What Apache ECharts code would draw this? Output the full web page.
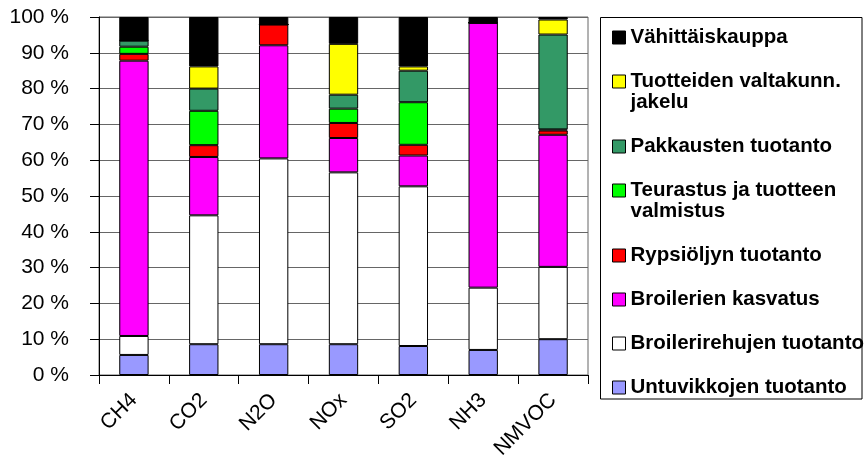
<!DOCTYPE html>
<html>
<head>
<meta charset="utf-8">
<script src="https://cdn.jsdelivr.net/npm/echarts@6/dist/echarts.min.js"></script>
<style>
  html, body { margin: 0; padding: 0; background: #fff; }
  #chart { width: 864px; height: 465px; }
</style>
</head>
<body>
<div id="chart"></div>
<script>
// Emission categories along the x axis
const categories = ['CH4', 'CO2', 'N2O', 'NOx', 'SO2', 'NH3', 'NMVOC'];

// Share (%) of each production stage, stacked from the bottom up
const untuvikkojen    = [5.6, 8.6, 8.6, 8.6, 8.1, 7.0, 10.0];
const broilerirehujen = [5.3, 36.0, 51.9, 48.0, 44.6, 17.4, 20.2];
const broilerien      = [76.9, 16.3, 31.6, 9.6, 8.6, 74.0, 36.9];
const rypsioljyn      = [1.9, 3.3, 5.8, 4.2, 3.0, 0, 1.2];
const teurastus       = [2.0, 9.6, 0, 4.0, 11.9, 0, 0.3];
const pakkausten      = [1.7, 6.2, 0, 3.9, 8.8, 0, 26.5];
const tuotteiden      = [0, 6.2, 0, 14.2, 1.2, 0, 4.2];
const vahittais       = [6.6, 13.8, 2.1, 7.5, 13.8, 1.6, 0.7];

// Y axis tick values
const yTicks = [0, 10, 20, 30, 40, 50, 60, 70, 80, 90, 100];

const stages = [
  { name: 'Untuvikkojen tuotanto',        data: untuvikkojen,    color: '#9999FF' },
  { name: 'Broilerirehujen tuotanto',     data: broilerirehujen, color: '#FFFFFF' },
  { name: 'Broilerien kasvatus',          data: broilerien,      color: '#FF00FF' },
  { name: 'Rypsiöljyn tuotanto',          data: rypsioljyn,      color: '#FF0000' },
  { name: 'Teurastus ja tuotteen\nvalmistus', data: teurastus,   color: '#00FF00' },
  { name: 'Pakkausten tuotanto',          data: pakkausten,      color: '#339966' },
  { name: 'Tuotteiden valtakunn.\njakelu', data: tuotteiden,     color: '#FFFF00' },
  { name: 'Vähittäiskauppa',              data: vahittais,       color: '#000000' }
];

const FONT = '"Liberation Sans", Arial, sans-serif';
const LINE_H = 21;
const chart = echarts.init(document.getElementById('chart'), null, { renderer: 'canvas' });

// Legend lists the top of the stack first; for two-line names the box is
// shortened by one line so the icon sits beside the first line
const legendData = stages.slice().reverse().map(s => {
  const item = { name: s.name };
  const lines = s.name.split('\n').length;
  if (lines > 1) {
    item.textStyle = { padding: [0, 0, -LINE_H * (lines - 1), 0] };
  }
  return item;
});

chart.setOption({
  backgroundColor: '#ffffff',
  animation: false,
  grid: {
    left: 99, right: 276, top: 17, bottom: 90,
    show: true, borderColor: '#666', borderWidth: 1
  },
  graphic: [{
    type: 'rect',
    shape: { x: 600.5, y: 17.5, width: 261.5, height: 381.5 },
    style: { fill: 'none', stroke: '#000', lineWidth: 1 },
    z: 0
  }],
  legend: {
    orient: 'vertical',
    left: 612, top: 27,
    padding: 0,
    itemGap: 23,
    itemWidth: 13, itemHeight: 13,
    icon: 'rect',
    itemStyle: { borderColor: '#000', borderWidth: 1 },
    textStyle: {
      fontFamily: FONT, fontSize: 20.5, fontWeight: 'bold',
      color: '#000', lineHeight: LINE_H,
      rich: { b: { fontWeight: 'bold' } }
    },
    selectedMode: false,
    data: legendData
  },
  xAxis: {
    type: 'category',
    data: categories,
    axisLine: { lineStyle: { color: '#000', width: 1 } },
    axisTick: { show: true, length: 9, interval: 0, lineStyle: { color: '#000' } },
    axisLabel: {
      rotate: 45, interval: 0, margin: 22,
      fontFamily: FONT, fontSize: 21, color: '#000'
    },
    splitLine: { show: false }
  },
  yAxis: {
    type: 'value',
    min: yTicks[0], max: yTicks[yTicks.length - 1], interval: yTicks[1] - yTicks[0],
    axisLine: { show: true, lineStyle: { color: '#000', width: 1 } },
    axisTick: { show: true, length: 9, lineStyle: { color: '#000' } },
    axisLabel: {
      formatter: '{value} %', margin: 30,
      fontFamily: FONT, fontSize: 21, color: '#000'
    },
    splitLine: { show: true, lineStyle: { color: '#666', width: 1 } }
  },
  series: stages.map(s => ({
    name: s.name,
    type: 'bar',
    stack: 'total',
    data: s.data,
    barCategoryGap: '58%',
    itemStyle: { color: s.color, borderColor: '#000', borderWidth: 1 },
    emphasis: { disabled: true }
  }))
});
</script>
</body>
</html>
